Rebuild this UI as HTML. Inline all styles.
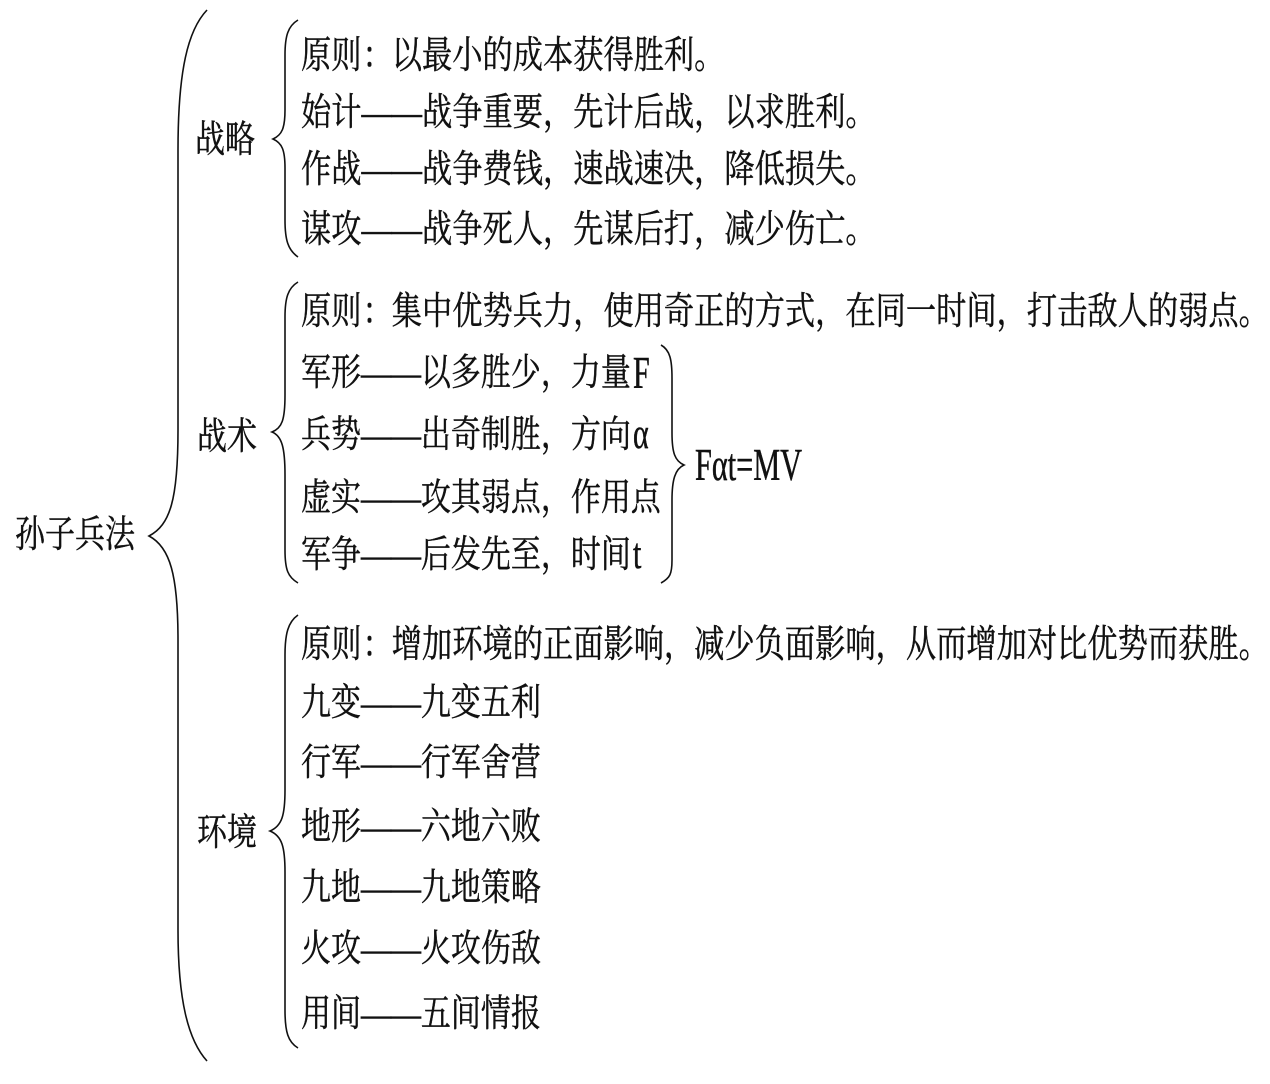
<!DOCTYPE html>
<html lang="zh"><head><meta charset="utf-8"><style>
html,body{margin:0;padding:0;background:#fff;width:1270px;height:1084px;overflow:hidden}
svg{display:block}
text{font-family:"Liberation Serif","Noto Serif CJK SC",serif;font-size:30.25px;fill:#111;stroke:#111;stroke-width:.35px;white-space:pre}
text.s{font-size:30px}
path{fill:none;stroke:#111;stroke-width:1.6}
</style></head><body>
<svg width="1270" height="1084" viewBox="0 0 1270 1084" xmlns="http://www.w3.org/2000/svg">
<path d="M207 10C188 30 178 70 178 150V430C178 500 170 525 149 536C170 547 178 575 178 640V930C178 1000 188 1040 207 1061"/>
<path d="M298 20C288 26 285 36 285 55V110C285 128 282 135 273 139C282 143 285 150 285 168V220C285 240 288 250 298 257"/>
<path d="M298 282C288 288 285 298 285 317V395C285 420 282 428 272 432C282 436 285 448 285 475V550C285 570 288 577 298 583"/>
<path d="M298 615C288 622 285 634 285 655V790C285 815 282 826 270 831C282 836 285 847 285 872V1010C285 1032 288 1042 298 1048"/>
<path d="M661 345C670 350 672 360 672 378V433C672 453 675 461 684 465C675 469 672 480 672 500V560C672 574 670 578 661 583"/>
<g>
<text class="s" transform="translate(15,547) scale(1,1.25)">孙子兵法</text>
<text class="s" transform="translate(195,152) scale(1,1.25)">战略</text>
<text class="s" transform="translate(197,449) scale(1,1.25)">战术</text>
<text class="s" transform="translate(197,845) scale(1,1.25)">环境</text>
<text transform="translate(301,68) scale(1,1.25)">原则<tspan dx="1">：</tspan><tspan dx="-1">以最小的成本获得胜利。</tspan></text>
<text transform="translate(301,125) scale(1,1.25)">始计——战争重要，先计后战，以求胜利。</text>
<text transform="translate(301,182) scale(1,1.25)">作战——战争费钱，速战速决，降低损失。</text>
<text transform="translate(301,242) scale(1,1.25)">谋攻——战争死人，先谋后打，减少伤亡。</text>
<text transform="translate(301,324) scale(1,1.25)">原则<tspan dx="1">：</tspan><tspan dx="-1">集中优势兵力，使用奇正的方式，在同一时间，打击敌人的弱点。</tspan></text>
<text class="s" transform="translate(301,385) scale(1,1.25)">军形——以多胜少，力量</text>
<text class="s" transform="translate(633,388) scale(1,1.5)">F</text>
<text class="s" transform="translate(301,447) scale(1,1.25)">兵势——出奇制胜，方向</text>
<text class="s" transform="translate(633,448) scale(1,1.45)">α</text>
<text class="s" transform="translate(301,510) scale(1,1.25)">虚实——攻其弱点，作用点</text>
<text class="s" transform="translate(301,567) scale(1,1.25)">军争——后发先至，时间</text>
<text class="s" transform="translate(633,568) scale(1,1.45)">t</text>
<text transform="translate(695,480) scale(1,1.5)" textLength="107" lengthAdjust="spacingAndGlyphs">Fαt=MV</text>
<text transform="translate(301,657) scale(1,1.25)">原则<tspan dx="1">：</tspan><tspan dx="-1">增加环境的正面影响，减少负面影响，从而增加对比优势而获胜。</tspan></text>
<text class="s" transform="translate(301,715) scale(1,1.25)">九变——九变五利</text>
<text class="s" transform="translate(301,775) scale(1,1.25)">行军——行军舍营</text>
<text class="s" transform="translate(301,839) scale(1,1.25)">地形——六地六败</text>
<text class="s" transform="translate(301,900) scale(1,1.25)">九地——九地策略</text>
<text class="s" transform="translate(301,961) scale(1,1.25)">火攻——火攻伤敌</text>
<text class="s" transform="translate(301,1026) scale(1,1.25)">用间——五间情报</text>
</g>
</svg>
</body></html>
